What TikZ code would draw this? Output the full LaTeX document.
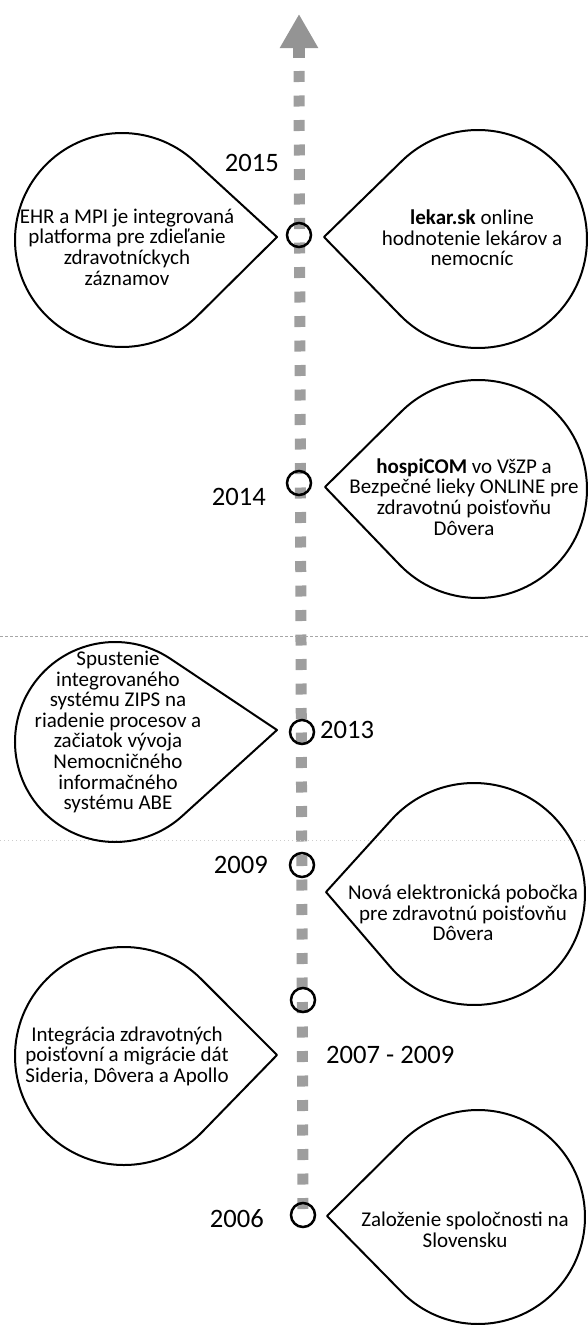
\documentclass[tikz,border=0pt]{standalone}
\usepackage{fontspec}
\setmainfont{Carlito}
\usepackage{tikz}
\usetikzlibrary{calc,positioning,arrows.meta,backgrounds}

\begin{document}
\begin{tikzpicture}[x=1pt,y=1pt,
    bubble/.style={draw=black,line width=2pt,line join=round},
    dot/.style={circle,draw=black,line width=2.5pt,minimum size=24pt,inner sep=0pt},
    axis/.style={draw=black!38,line width=11pt,dash pattern=on 11pt off 13.5pt},
    year/.style={font=\fontsize{26.6}{30}\selectfont,inner sep=0pt},
    txt/.style={align=center,font=\fontsize{21}{20.6}\selectfont,inner sep=0pt},
    scan/.style={draw=black!35,line width=0.6pt,dash pattern=on 3pt off 2pt}]
  \useasboundingbox (0,0) rectangle (588,-1325);
  \draw[scan] (0,-636) -- (588,-636);
  \draw[scan,draw=black!20,dash pattern=on 1pt off 3pt] (0,-840) -- (588,-840);

  \coordinate (tip) at (299,-14);
  \coordinate (stem) at (299,-58);
  \coordinate (dashtop) at (299,-71);
  \node[dot] (y2015) at (299,-235) {};
  \node[dot] (y2014) at (299,-483) {};
  \node[dot] (y2013) at (302,-732) {};
  \node[dot] (y2009) at (302,-865) {};
  \node[dot] (y2007) at (303,-1000) {};
  \node[dot] (y2006) at (303,-1215) {};
  \begin{scope}[on background layer]
    \draw[draw=black!42,line width=12pt,-{Triangle[width=36pt,length=34pt]}] (stem) -- (tip);
    \draw[axis] (dashtop) -- (y2006.center);
  \end{scope}

  \foreach \cx/\cy/\rad/\tx/\ty in {122/240/107/277/237, 478/239/109/324/237,
      478/489/109/325/487, 115/742/100/277/730, 474/894/111/326/892,
      124/1056/109/277/1055, 478/1217/107/327/1216}
    {
      \pgfmathsetmacro{\tdir}{atan2(\cy-\ty,\tx-\cx)}
      \pgfmathsetmacro{\thalf}{acos(\rad/veclen(\tx-\cx,\ty-\cy))}
      \pgfmathsetmacro{\sa}{\tdir+\thalf}
      \pgfmathsetmacro{\ea}{\tdir-\thalf+360}
      \draw[bubble] (\tx,-\ty) -- ($(\cx,-\cy)+(\sa:\rad)$)
        arc[start angle=\sa, end angle=\ea, radius=\rad] -- cycle;
    }

  \node[year,anchor=east] (t2015) at (279,-163) {2015};
  \node[year,anchor=east] (t2014) at (266,-497) {2014};
  \node[year,anchor=west] (t2013) at (320,-730) {2013};
  \node[year,anchor=east] (t2009) at (268,-865) {2009};
  \node[year,anchor=west] (t2007) at (326,-1055) {2007 - 2009};
  \node[year,anchor=east] (t2006) at (264,-1219) {2006};

  \node[txt] (ehr) at (127,-247) {EHR a MPI je integrovaná\\platforma pre zdieľanie\\zdravotníckych\\záznamov};
  \node[txt] (lekar) at (472,-238) {\textbf{lekar.sk} online\\hodnotenie lekárov a\\nemocníc};
  \node[txt] (hospi) at (464,-497) {\textbf{hospiCOM} vo VšZP a\\Bezpečné lieky ONLINE pre\\zdravotnú poisťovňu\\Dôvera};
  \node[txt] (zips) at (118,-732) {Spustenie\\integrovaného\\systému ZIPS na\\riadenie procesov a\\začiatok vývoja\\Nemocničného\\informačného\\systému ABE};
  \node[txt] (pobocka) at (463,-913) {Nová elektronická pobočka\\pre zdravotnú poisťovňu\\Dôvera};
  \node[txt] (integracia) at (127,-1056) {Integrácia zdravotných\\poisťovní a migrácie dát\\Sideria, Dôvera a Apollo};
  \node[txt] (zalozenie) at (465,-1230) {Založenie spoločnosti na\\Slovensku};
\end{tikzpicture}
\end{document}
